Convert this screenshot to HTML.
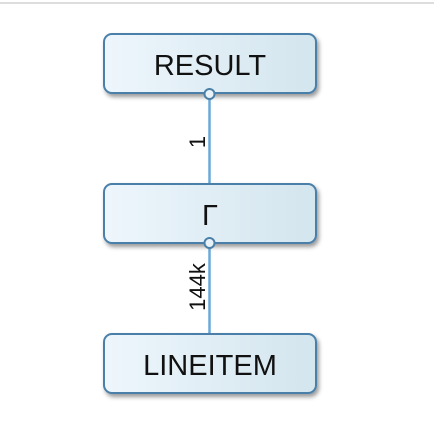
<!DOCTYPE html>
<html><head><style>
html,body{margin:0;padding:0;background:#fff;width:434px;height:428px;overflow:hidden;font-family:"Liberation Sans",sans-serif;}
</style></head><body>
<svg width="434" height="428" xmlns="http://www.w3.org/2000/svg">
<defs>
<linearGradient id="g" x1="0" y1="0" x2="1" y2="0">
<stop offset="0" stop-color="#eef6fc"/><stop offset="1" stop-color="#d3e5ee"/>
</linearGradient>
<filter id="s" x="-10%" y="-10%" width="130%" height="140%"><feDropShadow dx="2" dy="3" stdDeviation="2" flood-color="#000" flood-opacity="0.4"/></filter>
</defs>
<rect x="0" y="2" width="434" height="2" fill="#dddddd"/>
<line x1="209.5" y1="94" x2="209.5" y2="184" stroke="#6aaad8" stroke-width="2.5"/>
<line x1="209.5" y1="244" x2="209.5" y2="334" stroke="#6aaad8" stroke-width="2.5"/>
<g fill="url(#g)" stroke="#4a7fa8" stroke-width="2" filter="url(#s)">
<rect x="104" y="34" width="212" height="59" rx="8"/>
<rect x="104" y="184" width="212" height="59" rx="8"/>
<rect x="104" y="334" width="212" height="59" rx="8"/>
</g>
<circle cx="209.5" cy="94" r="5" fill="#e8f2f8" stroke="#4a7fa8" stroke-width="2"/>
<circle cx="209.5" cy="243" r="5" fill="#e8f2f8" stroke="#4a7fa8" stroke-width="2"/>
<g font-family="Liberation Sans, sans-serif" fill="#111" text-anchor="middle">
<text x="210" y="75" font-size="29">RESULT</text>
<text x="210" y="225" font-size="29">Γ</text>
<text x="210" y="375" font-size="29">LINEITEM</text>
<text transform="translate(205,142) rotate(-90)" font-size="22">1</text>
<text transform="translate(205,287) rotate(-90)" font-size="22">144k</text>
</g>
</svg>
</body></html>
